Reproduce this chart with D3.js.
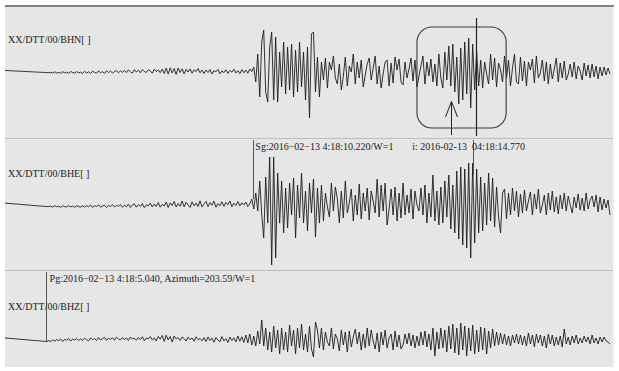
<!DOCTYPE html>
<html>
<head>
<meta charset="utf-8">
<script src="https://cdn.jsdelivr.net/npm/d3@7"></script>
<style>
  body { margin: 0; background: #fff; }
  svg text { font-family: "Liberation Serif", "Times New Roman", serif; font-size: 10px; fill: #1a1a1a; white-space: pre; }
</style>
</head>
<body>
<svg id="chart" width="619" height="371"></svg>
<script>
// seconds after 2016-02-13 04:18:00
const startTime = 4.0;
const endTime = 19.3;
const sampleInterval = 0.05;

const channels = ['XX/DTT/00/BHN[ ]', 'XX/DTT/00/BHE[ ]', 'XX/DTT/00/BHZ[ ]'];

// amplitudes, one row per second
const bhn = [
  1.5,1.4,1.4,1.2,1.1,1.0,1.0,0.8,0.7,0.7,0.5,0.4,0.4,0.2,0.1,0.0,0.0,-0.2,-0.3,-0.3,
  -0.5,-0.6,-0.7,-0.3,-1.2,0.2,-1.0,-0.4,-1.3,0.3,-0.9,-0.2,-1.4,0.5,-0.6,-1.1,0.4,-0.8,-0.2,-1.5,
  0.6,-1.0,0.2,-1.6,0.8,-0.4,-1.2,1.0,-0.7,0.3,-1.4,1.2,-0.5,0.9,-1.0,0.4,1.5,-0.8,1.1,-0.3,
  1.6,-0.6,2.0,0.2,-1.0,2.4,0.0,1.8,-0.8,2.6,0.5,-0.4,2.2,1.0,-1.2,2.8,0.4,2.0,-0.6,3.0,
  -1.5,3.8,-2.0,4.2,-1.0,3.5,-2.5,4.0,-0.5,3.2,-1.8,2.6,0.0,3.0,-1.2,2.2,0.5,3.4,-0.8,2.0,
  -1.5,1.8,-0.5,2.4,-2.0,1.2,0.2,2.6,-1.8,1.0,-0.6,2.2,-1.4,1.6,-0.2,2.8,-1.0,1.4,-1.6,2.4,
  -0.8,2.0,-1.2,3.0,0.5,5,-10,18,-25,30,42,-20,-30,25,40,-28,35,-30,20,-15,
  30,-22,25,-18,28,-25,22,-20,30,-15,20,-28,25,-46,38,40,-20,15,-25,10,
  -8,14,-16,10,2,16,-6,-12,8,-18,-4,15,-14,6,0,18,-12,10,-6,12,
  -15,-3,8,14,-8,4,16,-12,6,-16,-2,10,12,-14,9,-11,15,2,13,-10,
  -13,10,-6,3,14,-9,12,-15,-4,6,16,-12,10,-4,13,-10,8,-14,18,-6,
  -16,20,-8,26,-14,28,-20,15,-32,24,-28,30,-22,34,-36,28,-18,20,-14,12,
  -16,10,-2,-12,18,-8,14,-15,9,2,-10,16,-6,12,-14,4,18,-10,-12,15,
  -9,11,-14,10,2,13,-11,16,-6,-1,12,-9,10,-12,8,-7,3,14,-10,9,
  -6,11,-8,-2,8,-5,10,-7,6,1,-8,9,-4,7,-6,8,-5,6,-7,5,
  -4,5,-3,4,-2
];

const bhe = [
  0.0,-0.3,-0.4,-0.6,-0.7,-1.0,-1.1,-1.2,-1.5,-1.6,-1.7,-2.0,-2.1,-2.2,-2.5,-2.6,-2.7,-3.0,-3.1,-3.2,
  -3.4,-3.6,-3.5,-3.0,-4.2,-2.6,-3.8,-3.2,-4.4,-2.8,-3.6,-4.0,-2.5,-3.9,-3.1,-4.3,-2.7,-3.5,-4.1,-2.9,
  -4.0,-2.6,-3.8,-2.0,-4.4,-2.8,-3.5,-1.8,-4.2,-3.0,-2.2,-4.5,-2.5,-3.6,-1.6,-4.0,-2.4,-3.2,-1.5,-4.3,
  -2.2,-3.8,-1.2,-4.5,-2.0,-0.8,-4.2,-1.5,-3.4,-0.5,-4.6,-1.8,-2.8,-0.2,-4.0,-1.0,-3.6,0.5,-4.2,-1.4,
  -3.0,1.0,-4.5,0.2,-2.6,1.5,-4.0,-0.5,-3.2,2.0,-3.8,0.8,-2.0,-4.4,1.2,-2.8,0.0,-3.5,2.2,-4.0,
  -1.0,1.6,-3.6,0.4,-2.2,1.8,-4.2,-0.6,-2.8,1.2,-3.4,0.6,-1.8,2.0,-3.8,-0.2,-2.4,1.4,-3.0,0.2,
  -2.0,1.0,-3.5,-1.0,4,-6,10,-8,22,-12,-35,26,-20,46,-62,46,-55,30,-20,22,
  -30,15,-25,20,-12,25,-35,18,-15,30,-20,12,-28,20,-10,24,-34,15,-20,18,
  -18,10,-4,-14,20,-8,16,4,-20,12,-15,22,-10,0,14,-18,8,-12,19,-16,
  10,-8,15,-17,12,2,-10,24,-14,18,-8,20,-22,-6,14,-12,16,-18,10,-15,
  20,-12,8,-10,14,-16,12,-2,-8,15,-12,18,-20,10,-14,28,-18,12,-22,16,
  -20,22,-14,28,-26,18,-30,32,-36,36,-42,34,-45,40,-55,40,-40,34,-30,26,
  -28,20,-22,30,-18,25,-24,16,-14,-30,10,14,-16,10,-12,15,-8,12,-14,9,
  -10,13,-8,2,11,-12,9,-6,14,-10,-2,8,-12,10,-7,12,-9,6,-11,8,
  -6,10,-8,7,-2,-10,6,-5,9,-7,5,-8,10,-6,3,7,-4,8,-9,6,
  -7,4,-5,3,-12
];

const bhz = [
  2.0,1.9,1.7,1.5,1.4,1.2,1.0,0.9,0.6,0.5,0.4,0.1,0.0,-0.1,-0.4,-0.5,-0.6,-0.9,-1.0,-1.1,
  -1.4,-1.5,-0.5,-1.8,0.2,-1.2,0.5,-0.8,1.0,-1.5,0.6,-0.2,1.4,-1.0,0.8,0.0,1.6,-0.6,1.2,-0.4,
  1.8,0.2,-0.8,2.0,0.4,1.5,-0.6,2.4,0.0,1.2,2.6,-0.4,1.8,0.6,2.2,-0.2,2.8,1.0,0.0,2.4,
  0.6,2.0,-0.5,3.0,1.0,1.8,-0.2,2.6,0.4,3.2,-0.8,2.0,1.2,3.4,0.0,2.2,-1.0,3.6,0.8,4.5,
  -1.5,4.8,0.0,3.5,-2.0,4.0,1.0,2.4,-0.5,3.0,1.5,-1.0,2.8,0.4,2.0,-1.2,3.2,0.2,1.6,-0.8,
  2.4,-1.5,3.0,-0.5,1.8,-2.2,2.6,0.0,-1.8,3.4,-1.0,1.4,-2.5,3.0,-0.6,2.2,-2.0,4.0,-1.2,3.2,
  -2.5,5,-3,6,-5,4,-6,9,-4,20,-6,12,-10,8,-12,14,-8,10,-14,12,
  -10,8,-12,15,-6,10,-14,12,-8,16,-10,6,-12,14,-9,-17,18,10,-8,12,
  -10,8,-2,-6,12,-9,6,1,-11,10,-5,8,-12,9,-7,3,11,-4,8,-10,
  6,-8,12,-6,10,-1,-9,7,-12,8,-5,10,-8,2,6,-10,9,-7,5,-9,
  -5,6,-4,7,-6,5,-8,4,-6,8,-5,9,-7,6,-10,12,-16,8,-9,12,
  -8,10,-12,14,-9,16,-13,12,-15,17,-10,14,-16,12,-11,15,-14,10,-12,13,
  -10,12,-14,9,-8,11,-6,8,-5,7,-4,6,-5,4,-6,5,-3,6,-4,5,
  -5,4,-6,7,-4,5,-7,6,-3,5,-6,4,-8,6,-4,5,-6,3,-5,4,
  -7,11,-4,3,-5,4,-3,5,-4,2,-3,4,-2,3,-4,5,-3,2,-4,3,
  -2,3,-1,-2,-4
];

const traces = [bhn, bhe, bhz];

// phase picks: channel index, time, text
const pickChannels = [0, 1, 1, 2];
const pickTimes = [15.84, 10.22, 15.76, 5.04];
const pickLabels = ['', 'Sg:2016\u221202\u221213 4:18:10.220/W=1', 'i: 2016-02-13  04:18:14.770', 'Pg:2016\u221202\u221213 4:18:5.040, Azimuth=203.59/W=1'];
const pickLabelTimes = [null, 10.29, 14.23, 5.12];

// highlighted window on BHN and the arrow under it
const boxTimes = [14.35, 16.59];
const arrowTime = 15.2;

const svg = d3.select('#chart');
const left = 5, right = 614;

const x = d3.scaleLinear().domain([startTime, endTime]).range([left, right]);

const panels = [
  { top: 7, bottom: 138, base: 72, labelY: 43 },
  { top: 139, bottom: 270, base: 203, labelY: 177 },
  { top: 271, bottom: 367, base: 340, labelY: 310 }
];
const yScales = panels.map(p => d3.scaleLinear().domain([-70, 70]).range([p.base + 70, p.base - 70]));

// background
svg.append('rect').attr('x', left).attr('y', 5).attr('width', right - left).attr('height', 362).attr('fill', '#e6e6e6');
svg.append('rect').attr('x', left).attr('y', 5).attr('width', right - left).attr('height', 2).attr('fill', '#7f7f7f');
[138.5, 270.5].forEach(yy => {
  svg.append('line').attr('x1', left).attr('x2', right).attr('y1', yy).attr('y2', yy)
    .attr('stroke', '#bcbcbc').attr('stroke-width', 1);
});
svg.append('line').attr('x1', right - 0.5).attr('x2', right - 0.5).attr('y1', 7).attr('y2', 367)
  .attr('stroke', '#f2f2f2');

// channel names
channels.forEach((name, k) => {
  svg.append('text').attr('x', 8).attr('y', panels[k].labelY).text(name);
});

// traces
traces.forEach((values, k) => {
  const line = d3.line()
    .x((d, i) => x(startTime + i * sampleInterval))
    .y(d => yScales[k](d));
  svg.append('path').datum(values)
    .attr('d', line)
    .attr('fill', 'none')
    .attr('stroke', '#1c1c1c')
    .attr('stroke-width', 0.9)
    .attr('stroke-linejoin', 'round');
});

// picks
pickTimes.forEach((t, j) => {
  const k = pickChannels[j];
  const p = panels[k];
  const xx = Math.round(x(t)) + 0.5;
  let y1, y2;
  if (k === 0) { y1 = 18; y2 = 136; }
  else if (j === 2) { y1 = p.top + 1; y2 = p.top + 36; }
  else { y1 = p.top + 1; y2 = yScales[k](traces[k][Math.round((t - startTime) / sampleInterval)]); }
  svg.append('line').attr('x1', xx).attr('x2', xx).attr('y1', y1).attr('y2', y2)
    .attr('stroke', k === 0 ? '#222' : '#555').attr('stroke-width', k === 0 ? 1.2 : 1);
  if (pickLabels[j]) {
    svg.append('text').attr('x', x(pickLabelTimes[j])).attr('y', p.top + 11).text(pickLabels[j]);
  }
});

// window box
const yN = yScales[0];
svg.append('rect')
  .attr('x', x(boxTimes[0])).attr('y', yN(45))
  .attr('width', x(boxTimes[1]) - x(boxTimes[0])).attr('height', yN(-56) - yN(45))
  .attr('rx', 15).attr('ry', 15)
  .attr('fill', 'none').attr('stroke', '#3a3a3a').attr('stroke-width', 1.1);

// arrow
const ax = Math.round(x(arrowTime)) + 0.5;
svg.append('line').attr('x1', ax).attr('x2', ax).attr('y1', yN(-63)).attr('y2', yN(-29.5))
  .attr('stroke', '#222');
svg.append('path')
  .attr('d', `M${ax - 6},${yN(-45)}L${ax},${yN(-29.5)}L${ax + 6},${yN(-45)}`)
  .attr('fill', 'none').attr('stroke', '#222');
</script>
</body>
</html>
